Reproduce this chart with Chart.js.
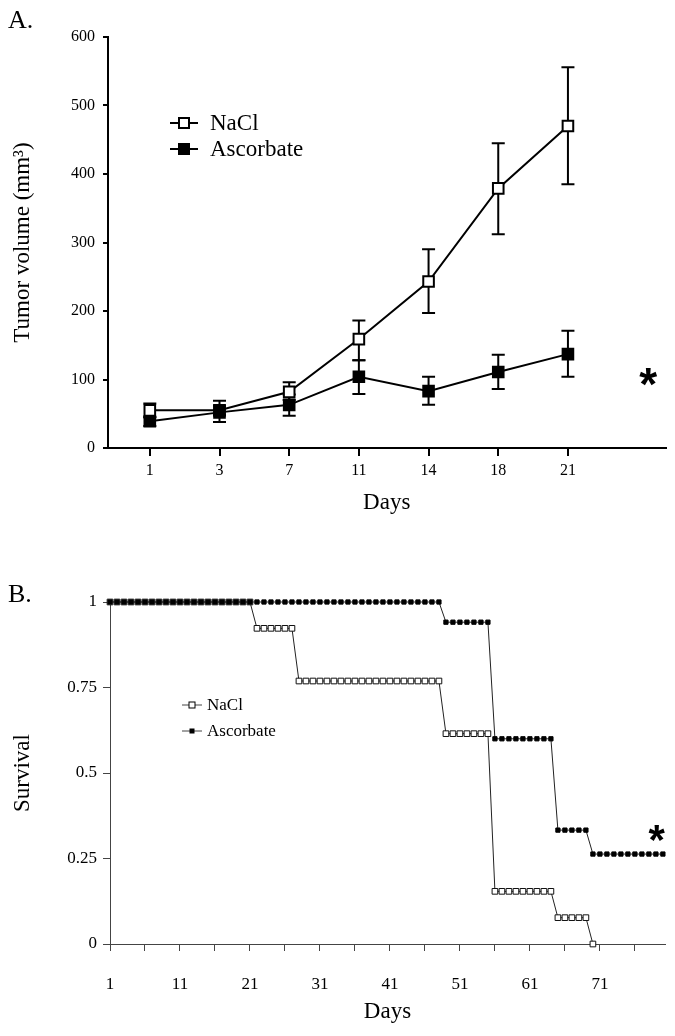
<!DOCTYPE html>
<html lang="en">
<head>
<meta charset="UTF-8">
<title>Tumor volume and survival</title>
<script src="https://cdn.jsdelivr.net/npm/chart.js"></script>
<style>
  body { margin: 0; background: #fff; }
  #wrapA { position: absolute; left: 0; top: 0; width: 675px; height: 530px; }
  #wrapB { position: absolute; left: 0; top: 560px; width: 675px; height: 476px; }
</style>
</head>
<body>
<div id="wrapA"><canvas id="chartA"></canvas></div>
<div id="wrapB"><canvas id="chartB"></canvas></div>

<script>
// ---- Panel A: tumor volume (mean with error bars) ----
var dayLabels   = ['1', '3', '7', '11', '14', '18', '21'];
var naclVolume  = [55, 55, 82, 159, 243, 379, 470];
var naclLow     = [45, 48, 70, 128, 197, 312, 385];
var naclHigh    = [65, 62, 96, 186, 290, 445, 556];
var ascVolume   = [39, 52, 63, 104, 83, 111, 137];
var ascLow      = [32, 38, 47, 79, 63, 86, 104];
var ascHigh     = [45, 69, 78, 128, 104, 136, 171];
var volumeTicks = [0, 100, 200, 300, 400, 500, 600];

// ---- Panel B: survival per day ----
var survivalDays = [
  1, 2, 3, 4, 5, 6, 7, 8, 9, 10, 11, 12, 13, 14, 15, 16, 17, 18, 19, 20,
  21, 22, 23, 24, 25, 26, 27, 28, 29, 30, 31, 32, 33, 34, 35, 36, 37, 38, 39, 40,
  41, 42, 43, 44, 45, 46, 47, 48, 49, 50, 51, 52, 53, 54, 55, 56, 57, 58, 59, 60,
  61, 62, 63, 64, 65, 66, 67, 68, 69, 70, 71, 72, 73, 74, 75, 76, 77, 78, 79, 80
];
var naclSurvival = [
  1, 1, 1, 1, 1, 1, 1, 1, 1, 1, 1, 1, 1, 1, 1, 1, 1, 1, 1, 1, 1,
  0.923, 0.923, 0.923, 0.923, 0.923, 0.923,
  0.769, 0.769, 0.769, 0.769, 0.769, 0.769, 0.769, 0.769, 0.769, 0.769, 0.769,
  0.769, 0.769, 0.769, 0.769, 0.769, 0.769, 0.769, 0.769, 0.769, 0.769,
  0.615, 0.615, 0.615, 0.615, 0.615, 0.615, 0.615,
  0.154, 0.154, 0.154, 0.154, 0.154, 0.154, 0.154, 0.154, 0.154,
  0.077, 0.077, 0.077, 0.077, 0.077,
  0
];
var ascSurvival = [
  1, 1, 1, 1, 1, 1, 1, 1, 1, 1, 1, 1, 1, 1, 1, 1, 1, 1, 1, 1, 1, 1, 1, 1,
  1, 1, 1, 1, 1, 1, 1, 1, 1, 1, 1, 1, 1, 1, 1, 1, 1, 1, 1, 1, 1, 1, 1, 1,
  0.941, 0.941, 0.941, 0.941, 0.941, 0.941, 0.941,
  0.6, 0.6, 0.6, 0.6, 0.6, 0.6, 0.6, 0.6, 0.6,
  0.333, 0.333, 0.333, 0.333, 0.333,
  0.263, 0.263, 0.263, 0.263, 0.263, 0.263, 0.263, 0.263, 0.263, 0.263, 0.263
];
var survivalTicks  = [1, 6, 11, 16, 21, 26, 31, 36, 41, 46, 51, 56, 61, 66, 71, 76];
var survivalLabels = [1, 11, 21, 31, 41, 51, 61, 71];
var survivalYTicks = [0, 0.25, 0.5, 0.75, 1];

var SERIF = 'Liberation Serif';

function pairs(xs, ys) {
  return ys.map(function (v, i) { return { x: xs[i], y: v }; });
}

// error bars drawn under the lines and markers
var errorBars = {
  id: 'errorBars',
  beforeDatasetsDraw: function (chart) {
    var ctx = chart.ctx, ys = chart.scales.y;
    chart.data.datasets.forEach(function (ds, di) {
      if (!ds.errLow) return;
      var meta = chart.getDatasetMeta(di);
      ctx.save();
      ctx.strokeStyle = '#000';
      ctx.lineWidth = 2;
      meta.data.forEach(function (pt, i) {
        var yl = ys.getPixelForValue(ds.errLow[i]);
        var yh = ys.getPixelForValue(ds.errHigh[i]);
        ctx.beginPath();
        ctx.moveTo(pt.x, yl); ctx.lineTo(pt.x, yh);
        ctx.moveTo(pt.x - 6.5, yl); ctx.lineTo(pt.x + 6.5, yl);
        ctx.moveTo(pt.x - 6.5, yh); ctx.lineTo(pt.x + 6.5, yh);
        ctx.stroke();
      });
      ctx.restore();
    });
  }
};

// panel letter, in-plot legend and the asterisk
function decorations(cfg) {
  return {
    id: 'decor',
    afterDraw: function (chart) {
      var ctx = chart.ctx;
      ctx.save();
      ctx.fillStyle = '#000';
      ctx.font = '26px "' + SERIF + '"';
      ctx.textBaseline = 'alphabetic';
      ctx.fillText(cfg.letter, 8, cfg.letterY);

      cfg.legend.forEach(function (item) {
        ctx.strokeStyle = cfg.legendLine;
        ctx.lineWidth = cfg.legendWidth;
        ctx.beginPath();
        ctx.moveTo(cfg.legendX0, item.y);
        ctx.lineTo(cfg.legendX1, item.y);
        ctx.stroke();
        var mx = (cfg.legendX0 + cfg.legendX1) / 2, h = item.size / 2;
        ctx.fillStyle = item.fill;
        ctx.fillRect(mx - h, item.y - h, item.size, item.size);
        ctx.strokeStyle = '#000';
        ctx.lineWidth = item.border;
        ctx.strokeRect(mx - h, item.y - h, item.size, item.size);
        ctx.fillStyle = '#000';
        ctx.font = cfg.legendFont + 'px "' + SERIF + '"';
        ctx.textBaseline = 'middle';
        ctx.fillText(item.text, cfg.legendTextX, item.y + 1);
      });

      var sx = chart.scales.x.getPixelForValue(cfg.star.x);
      var sy = chart.scales.y.getPixelForValue(cfg.star.y);
      ctx.font = 'bold ' + cfg.star.size + 'px "Liberation Sans"';
      ctx.textAlign = 'center';
      ctx.textBaseline = 'alphabetic';
      var m = ctx.measureText('*');
      ctx.fillText('*', sx, sy + (m.actualBoundingBoxAscent - m.actualBoundingBoxDescent) / 2);
      ctx.restore();
    }
  };
}

// ---------------- Chart A ----------------
new Chart(document.getElementById('chartA'), {
  type: 'line',
  data: {
    datasets: [
      {
        label: 'NaCl',
        data: pairs([1, 2, 3, 4, 5, 6, 7], naclVolume),
        errLow: naclLow, errHigh: naclHigh,
        borderColor: '#000', borderWidth: 2,
        pointStyle: 'rect', pointRadius: 7.5,
        pointBackgroundColor: '#fff', pointBorderColor: '#000', pointBorderWidth: 2,
        clip: false, order: 1
      },
      {
        label: 'Ascorbate',
        data: pairs([1, 2, 3, 4, 5, 6, 7], ascVolume),
        errLow: ascLow, errHigh: ascHigh,
        borderColor: '#000', borderWidth: 2,
        pointStyle: 'rect', pointRadius: 7.5,
        pointBackgroundColor: '#000', pointBorderColor: '#000', pointBorderWidth: 2,
        clip: false, order: 0
      }
    ]
  },
  options: {
    responsive: true, maintainAspectRatio: false, animation: false,
    layout: { padding: { top: 37, right: 7, left: 0, bottom: 0 } },
    plugins: { legend: { display: false }, tooltip: { enabled: false } },
    scales: {
      x: {
        type: 'linear', min: 0.4, max: 8.4,
        afterBuildTicks: function (s) { s.ticks = dayLabels.map(function (d, i) { return { value: i + 1 }; }); },
        afterFit: function (s) { s.height = 82; },
        ticks: {
          autoSkip: false, maxRotation: 0, padding: 5, color: '#000',
          font: { family: SERIF, size: 16 },
          callback: function (v, i) { return dayLabels[i]; }
        },
        grid: { drawOnChartArea: false, tickLength: 8, color: '#000', lineWidth: 2 },
        border: { color: '#000', width: 2 },
        title: { display: true, text: 'Days', color: '#000', font: { family: SERIF, size: 23 }, padding: { top: 4, bottom: 13 } }
      },
      y: {
        min: 0, max: 600,
        afterBuildTicks: function (s) { s.ticks = volumeTicks.map(function (v) { return { value: v }; }); },
        afterFit: function (s) { s.width = 108; },
        ticks: { padding: 8, color: '#000', font: { family: SERIF, size: 16 } },
        grid: { drawOnChartArea: false, tickLength: 5, color: '#000', lineWidth: 2 },
        border: { color: '#000', width: 2 },
        title: { display: true, text: 'Tumor volume (mm³)', color: '#000', font: { family: SERIF, size: 23 }, padding: { top: 9, bottom: 0 } }
      }
    }
  },
  plugins: [errorBars, decorations({
    letter: 'A.', letterY: 28,
    legendX0: 170, legendX1: 198, legendTextX: 210, legendFont: 23,
    legendLine: '#000', legendWidth: 2,
    legend: [
      { text: 'NaCl', y: 123, fill: '#fff', size: 10, border: 2 },
      { text: 'Ascorbate', y: 149, fill: '#000', size: 10, border: 2 }
    ],
    star: { x: 8.15, y: 104, size: 46 }
  })]
});

// ---------------- Chart B ----------------
new Chart(document.getElementById('chartB'), {
  type: 'line',
  data: {
    datasets: [
      {
        label: 'NaCl',
        data: pairs(survivalDays, naclSurvival),
        borderColor: '#222', borderWidth: 1,
        pointStyle: 'rect', pointRadius: 4,
        pointBackgroundColor: '#fff', pointBorderColor: '#111', pointBorderWidth: 1,
        clip: false, order: 1
      },
      {
        label: 'Ascorbate',
        data: pairs(survivalDays, ascSurvival),
        borderColor: '#222', borderWidth: 1,
        pointStyle: 'rect', pointRadius: 3,
        pointBackgroundColor: '#000', pointBorderColor: '#000', pointBorderWidth: 1,
        clip: false, order: 0
      }
    ]
  },
  options: {
    responsive: true, maintainAspectRatio: false, animation: false,
    layout: { padding: { top: 42, right: 10, left: 0, bottom: 0 } },
    plugins: { legend: { display: false }, tooltip: { enabled: false } },
    scales: {
      x: {
        type: 'linear', min: 1, max: 80.3,
        afterBuildTicks: function (s) { s.ticks = survivalTicks.map(function (v) { return { value: v }; }); },
        afterFit: function (s) { s.height = 92; },
        ticks: {
          autoSkip: false, maxRotation: 0, padding: 23, color: '#000',
          font: { family: SERIF, size: 17 },
          callback: function (v) { return survivalLabels.indexOf(v) >= 0 ? String(v) : ''; }
        },
        grid: { drawOnChartArea: false, tickLength: 7, color: '#444', lineWidth: 1 },
        border: { color: '#444', width: 1 },
        title: { display: true, text: 'Days', color: '#000', font: { family: SERIF, size: 23 }, padding: { top: 4, bottom: 10 } }
      },
      y: {
        min: 0, max: 1,
        afterBuildTicks: function (s) { s.ticks = survivalYTicks.map(function (v) { return { value: v }; }); },
        afterFit: function (s) { s.width = 110; },
        ticks: { padding: 6, color: '#000', font: { family: SERIF, size: 17 },
          callback: function (v) { return String(v); } },
        grid: { drawOnChartArea: false, tickLength: 7, color: '#444', lineWidth: 1 },
        border: { color: '#444', width: 1 },
        title: { display: true, text: 'Survival', color: '#000', font: { family: SERIF, size: 23 }, padding: { top: 9, bottom: 0 } }
      }
    }
  },
  plugins: [decorations({
    letter: 'B.', letterY: 42,
    legendX0: 182, legendX1: 202, legendTextX: 207, legendFont: 17,
    legendLine: '#444', legendWidth: 1,
    legend: [
      { text: 'NaCl', y: 145, fill: '#fff', size: 6, border: 1 },
      { text: 'Ascorbate', y: 171, fill: '#000', size: 4, border: 1 }
    ],
    star: { x: 79.1, y: 0.325, size: 42 }
  })]
});
</script>
</body>
</html>
